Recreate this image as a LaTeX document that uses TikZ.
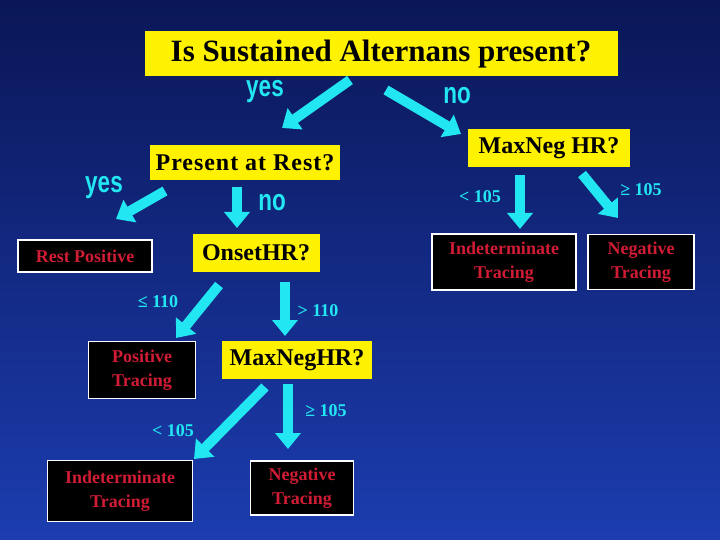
\documentclass[tikz,border=0pt]{standalone}
\usepackage{fontspec}
\setmainfont{Liberation Serif}
\newfontfamily\yesnofont{Liberation Sans}
\usetikzlibrary{arrows.meta}
\definecolor{navytop}{HTML}{0A1656}
\definecolor{navybot}{HTML}{1C3DB0}
\definecolor{arrowcyan}{HTML}{22E6F2}
\definecolor{tracered}{HTML}{D01C34}
\tikzset{
	question/.style={fill=yellow, text=black, font=\bfseries\fontsize{24}{26}\selectfont, inner sep=0pt},
	tracing/.style={fill=black, draw=white, line width=1.5pt, text=tracered, align=center, inner sep=0pt,
		font=\bfseries\fontsize{18}{24}\selectfont},
	yesno/.style={text=arrowcyan, font=\yesnofont\bfseries\fontsize{30}{30}\selectfont, xscale=0.75},
	branch/.style={text=arrowcyan, font=\bfseries\fontsize{18}{18}\selectfont},
	blockarrow/.style={draw=arrowcyan, line width=10pt, -{Triangle[width=25pt,length=16pt]}}
}
\begin{document}
\begin{tikzpicture}[x=1pt,y=-1pt]
	\shade[top color=navytop, bottom color=navybot] (0,0) rectangle (720,540);
	\useasboundingbox (0,0) rectangle (720,540);
	% questions
	\node[question, minimum width=473pt, minimum height=45pt, font=\bfseries\fontsize{31}{33}\selectfont] (alt) at (381,54) {Is Sustained Alternans present?};
	\node[question, minimum width=190pt, minimum height=35pt, font=\bfseries\fontsize{24}{26}\selectfont\addfontfeature{LetterSpace=4}] (rest) at (245,163) {Present at Rest?};
	\node[question, minimum width=162pt, minimum height=38pt] (maxneg1) at (549,148) {MaxNeg HR?};
	\node[question, minimum width=127pt, minimum height=38pt] (onset) at (256,253) {OnsetHR?};
	\node[question, minimum width=150pt, minimum height=38pt] (maxneg2) at (297,360) {MaxNegHR?};
	% tracings
	\node[tracing, minimum width=134pt, minimum height=32pt] (restpos) at (85,256) {Rest Positive};
	\node[tracing, minimum width=144pt, minimum height=56pt] (indet1) at (504,262) {Indeterminate\\Tracing};
	\node[tracing, minimum width=106pt, minimum height=55pt] (neg1) at (641,262) {Negative\\Tracing};
	\node[tracing, minimum width=107pt, minimum height=57pt] (pos) at (142,370) {Positive\\Tracing};
	\node[tracing, minimum width=145pt, minimum height=61pt] (indet2) at (120,491) {Indeterminate\\Tracing};
	\node[tracing, minimum width=103pt, minimum height=54pt] (neg2) at (302,488) {Negative\\Tracing};
	% arrow ends
	\coordinate (a1) at (350,80);  \coordinate (b1) at (282,128);
	\coordinate (a2) at (386,90);  \coordinate (b2) at (461,134);
	\coordinate (a3) at (165,191); \coordinate (b3) at (116,219);
	\coordinate (a4) at (237,187); \coordinate (b4) at (237,228);
	\coordinate (a5) at (520,175); \coordinate (b5) at (520,229);
	\coordinate (a6) at (582,174); \coordinate (b6) at (618,218);
	\coordinate (a7) at (219,285); \coordinate (b7) at (176,338);
	\coordinate (a8) at (285,282); \coordinate (b8) at (285,336);
	\coordinate (a9) at (265,387); \coordinate (b9) at (194,459);
	\coordinate (a10) at (288,384); \coordinate (b10) at (288,449);
	\foreach \i in {1,...,10}
		\draw[blockarrow] (a\i) -- (b\i);
	% labels
	\node[yesno] (yes1) at (265,92) {yes};
	\node[yesno] (no1) at (457,96) {no};
	\node[yesno] (yes2) at (104,188) {yes};
	\node[yesno] (no2) at (272,203) {no};
	\node[branch] (lt1) at (480,197) {< 105};
	\node[branch] (ge1) at (641,190) {≥ 105};
	\node[branch] (le2) at (158,302) {≤ 110};
	\node[branch] (gt2) at (318,311) {> 110};
	\node[branch] (lt3) at (173,431) {< 105};
	\node[branch] (ge3) at (326,411) {≥ 105};
\end{tikzpicture}
\end{document}
